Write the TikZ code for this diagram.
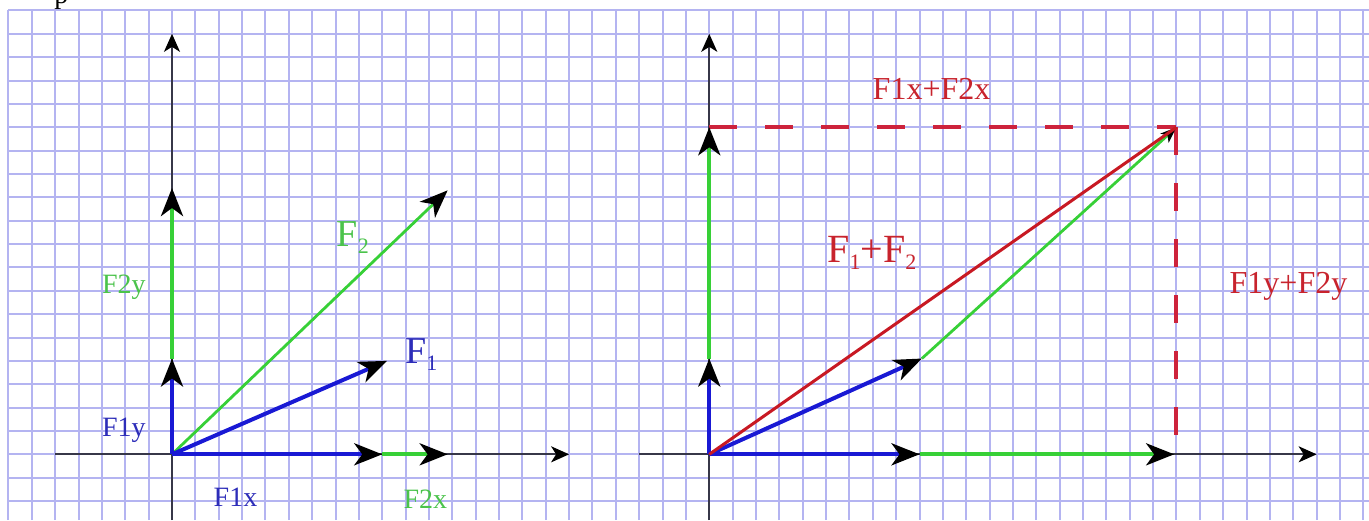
\documentclass[tikz,border=0pt]{standalone}
\usepackage{fontspec}
\setmainfont{Liberation Serif}
\usetikzlibrary{arrows.meta}
\definecolor{gridc}{RGB}{180,180,241}
\definecolor{axisc}{RGB}{55,55,72}
\definecolor{vblue}{RGB}{25,25,212}
\definecolor{vgreen}{RGB}{55,208,55}
\definecolor{vred}{RGB}{200,25,35}
\definecolor{dred}{RGB}{205,35,60}
\definecolor{tblue}{RGB}{45,45,185}
\definecolor{tgreen}{RGB}{75,195,75}
\definecolor{tred}{RGB}{200,35,45}
\newcommand\mysub[1]{\raisebox{-3.5pt}{\fontsize{11}{11}\selectfont #1}}
\begin{document}
\begin{tikzpicture}[x=11.68pt,y=11.68pt,
  gridline/.style={draw=gridc,line width=1pt},
  axis/.style={draw=axisc,line width=1pt},
  axtip/.style={-{Stealth[length=9pt,width=8pt,inset=2.5pt,color=black]}},
  vtip/.style={-{Stealth[length=14pt,width=11pt,inset=4pt,color=black]}},
  stip/.style={-{Stealth[length=8pt,width=6pt,inset=2pt,color=black]}},
  bvec/.style={draw=vblue,line width=2pt},
  gvec/.style={draw=vgreen,line width=2pt},
  gthin/.style={draw=vgreen,line width=1.4pt},
  rvec/.style={draw=vred,line width=1.5pt},
  rdash/.style={draw=dred,line width=2pt,dash pattern=on 14pt off 14pt},
  lbl/.style={inner sep=0pt,anchor=base west},
  smallfont/.style={font=\fontsize{14}{14}\selectfont},
  midfont/.style={font=\fontsize{16}{16}\selectfont},
  bigfont/.style={font=\fontsize{19}{19}\selectfont}
]
\useasboundingbox (-7.363,-2.812) rectangle (51.241,19.448);
\fill[white] (-7.363,-2.812) rectangle (51.241,19.448);
% cropped letter at the top
\node[lbl,font=\fontsize{14}{14}\selectfont] (frag) at (-5.05,19.28) {p};
% grid
\foreach \i in {-7,...,51} \draw[gridline] (\i,-2.812) -- (\i,19);
\foreach \j in {-2,...,19} \draw[gridline] (-7,\j) -- (51.241,\j);

% ---------------- left diagram ----------------
\coordinate (O1) at (0,0);
\coordinate (Y1b) at (0,-2.812);
\coordinate (Y1t) at (0,18);
\coordinate (X1l) at (-5,0);
\coordinate (X1r) at (17,0);
\coordinate (A1) at (9.2,4);
\coordinate (B1) at (11.8,11.3);
\coordinate (A1x) at (9,0);
\coordinate (B1x) at (11.8,0);
\coordinate (A1y) at (0,4.1);
\coordinate (B1y) at (0,11.4);
\draw[axis,axtip] (Y1b) -- (Y1t);
\draw[axis,axtip] (X1l) -- (X1r);
\draw[gthin,vtip] (O1) -- (B1);
\draw[gvec,vtip] (A1y) -- (B1y);
\draw[gvec,vtip] (A1x) -- (B1x);
\draw[bvec,vtip] (O1) -- (A1y);
\draw[bvec,vtip] (O1) -- (A1x);
\draw[bvec,vtip] (O1) -- (A1);
\node[lbl,bigfont,text=tgreen] (lF2) at (7.04,8.89) {F\mysub{2}};
\node[lbl,bigfont,text=tblue] (lF1) at (9.97,3.9) {F\mysub{1}};
\node[lbl,smallfont,text=tgreen] (lF2y) at (-3.01,6.89) {F2y};
\node[lbl,smallfont,text=tblue] (lF1y) at (-3.01,0.78) {F1y};
\node[lbl,smallfont,text=tblue] (lF1x) at (1.77,-2.24) {F1x};
\node[lbl,smallfont,text=tgreen] (lF2x) at (9.9,-2.3) {F2x};

% ---------------- right diagram ----------------
\begin{scope}[shift={(23,0)}]
\coordinate (O2) at (0,0);
\coordinate (Y2b) at (0,-2.812);
\coordinate (Y2t) at (0,18);
\coordinate (X2l) at (-3,0);
\coordinate (X2r) at (26,0);
\coordinate (A2) at (9.1,4.1);
\coordinate (S2) at (20,14);
\coordinate (A2x) at (9,0);
\coordinate (S2x) at (19.9,0);
\coordinate (A2y) at (0,4.1);
\coordinate (S2y) at (0,14);
\coordinate (Xc) at (20,0);
\draw[axis,axtip] (Y2b) -- (Y2t);
\draw[axis,axtip] (X2l) -- (X2r);
\draw[rdash] (S2y) -- (S2);
\draw[rdash] (S2) -- (Xc);
\draw[gvec,vtip] (A2y) -- (S2y);
\draw[gvec,vtip] (A2x) -- (S2x);
\draw[bvec,vtip] (O2) -- (A2y);
\draw[bvec,vtip] (O2) -- (A2x);
\draw[gthin,stip] (A2) -- (S2);
\draw[bvec,vtip] (O2) -- (A2);
\draw[rvec] (O2) -- (S2);
\node[lbl,font=\fontsize{20}{20}\selectfont,text=tred] (rsum) at (5.04,8.2) {F\mysub{1}+F\mysub{2}};
\node[lbl,midfont,text=tred] (rx) at (6.98,15.17) {F1x+F2x};
\node[lbl,midfont,text=tred] (ry) at (22.26,6.88) {F1y+F2y};
\end{scope}
\end{tikzpicture}
\end{document}
